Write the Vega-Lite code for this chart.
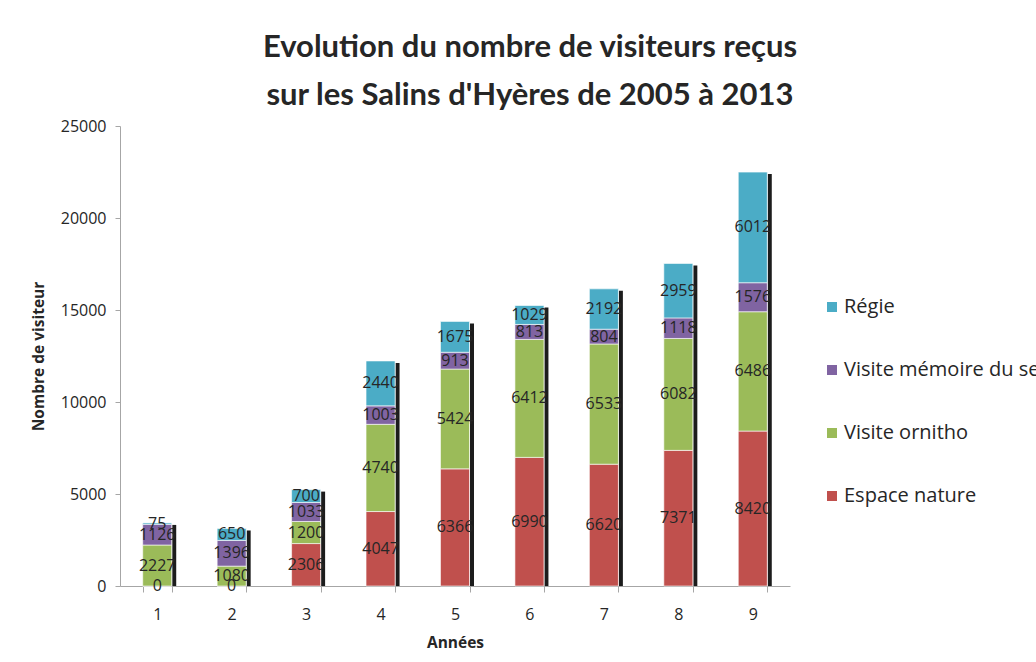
{
  "$schema": "https://vega.github.io/schema/vega-lite/v6.json",
  "autosize": {"type": "none"},
  "width": 670,
  "height": 460,
  "padding": {"left": 120, "top": 126, "right": 246, "bottom": 76},
  "background": "#ffffff",
  "title": {
    "text": ["Evolution du nombre de visiteurs reçus", "sur les Salins d'Hyères de 2005 à 2013"],
    "font": "Lato",
    "fontSize": 31,
    "fontWeight": "bold",
    "color": "#262626",
    "lineHeight": 48,
    "anchor": "middle",
    "frame": "group",
    "dx": 75,
    "offset": 6
  },
  "data": {
    "values": [
      {"year": "1", "series": "Espace nature", "value": 0},
      {"year": "1", "series": "Visite ornitho", "value": 2227},
      {"year": "1", "series": "Visite mémoire du sel", "value": 1126},
      {"year": "1", "series": "Régie", "value": 75},
      {"year": "2", "series": "Espace nature", "value": 0},
      {"year": "2", "series": "Visite ornitho", "value": 1080},
      {"year": "2", "series": "Visite mémoire du sel", "value": 1396},
      {"year": "2", "series": "Régie", "value": 650},
      {"year": "3", "series": "Espace nature", "value": 2306},
      {"year": "3", "series": "Visite ornitho", "value": 1200},
      {"year": "3", "series": "Visite mémoire du sel", "value": 1033},
      {"year": "3", "series": "Régie", "value": 700},
      {"year": "4", "series": "Espace nature", "value": 4047},
      {"year": "4", "series": "Visite ornitho", "value": 4740},
      {"year": "4", "series": "Visite mémoire du sel", "value": 1003},
      {"year": "4", "series": "Régie", "value": 2440},
      {"year": "5", "series": "Espace nature", "value": 6366},
      {"year": "5", "series": "Visite ornitho", "value": 5424},
      {"year": "5", "series": "Visite mémoire du sel", "value": 913},
      {"year": "5", "series": "Régie", "value": 1675},
      {"year": "6", "series": "Espace nature", "value": 6990},
      {"year": "6", "series": "Visite ornitho", "value": 6412},
      {"year": "6", "series": "Visite mémoire du sel", "value": 813},
      {"year": "6", "series": "Régie", "value": 1029},
      {"year": "7", "series": "Espace nature", "value": 6620},
      {"year": "7", "series": "Visite ornitho", "value": 6533},
      {"year": "7", "series": "Visite mémoire du sel", "value": 804},
      {"year": "7", "series": "Régie", "value": 2192},
      {"year": "8", "series": "Espace nature", "value": 7371},
      {"year": "8", "series": "Visite ornitho", "value": 6082},
      {"year": "8", "series": "Visite mémoire du sel", "value": 1118},
      {"year": "8", "series": "Régie", "value": 2959},
      {"year": "9", "series": "Espace nature", "value": 8420},
      {"year": "9", "series": "Visite ornitho", "value": 6486},
      {"year": "9", "series": "Visite mémoire du sel", "value": 1576},
      {"year": "9", "series": "Régie", "value": 6012}
    ]
  },
  "encoding": {
    "x": {
      "field": "year",
      "type": "ordinal",
      "scale": {"paddingInner": 0.61, "paddingOuter": 0.305},
      "axis": {
        "title": "Années",
        "titleFont": "Open Sans",
        "titleFontSize": 15.5,
        "titleFontWeight": "bold",
        "titleColor": "#262626",
        "titlePadding": 13,
        "labelAngle": 0,
        "labelFont": "Open Sans",
        "labelFontSize": 16,
        "labelColor": "#262626",
        "labelPadding": 14,
        "domainColor": "#a6a6a6",
        "tickColor": "#a6a6a6",
        "tickSize": 6,
        "tickBand": "extent",
        "grid": false
      }
    }
  },
  "layer": [
    {
      "mark": {"type": "bar", "width": 4, "xOffset": 17, "yOffset": 2, "color": "#1c1c1c"},
      "encoding": {
        "y": {
          "aggregate": "sum",
          "field": "value",
          "type": "quantitative",
          "scale": {"domain": [0, 25000], "nice": false},
          "axis": {
            "title": "Nombre de visiteur",
            "titleFont": "Open Sans",
            "titleFontSize": 15.5,
            "titleFontWeight": "bold",
            "titleColor": "#262626",
            "titlePadding": 14,
            "values": [0, 5000, 10000, 15000, 20000, 25000],
            "format": "d",
            "labelFont": "Open Sans",
            "labelFontSize": 16,
            "labelColor": "#262626",
            "labelPadding": 9,
            "domainColor": "#a6a6a6",
            "tickColor": "#a6a6a6",
            "tickSize": 5,
            "grid": false
          }
        }
      }
    },
    {
      "transform": [
        {"calculate": "datum.series === 'Espace nature' ? 0 : datum.series === 'Visite ornitho' ? 1 : datum.series === 'Régie' ? 3 : 2", "as": "stackOrder"},
        {"stack": "value", "groupby": ["year"], "sort": [{"field": "stackOrder"}], "as": ["v0", "v1"]}
      ],
      "mark": {"type": "bar", "stroke": "#ffffff", "strokeWidth": 1, "strokeOpacity": 0.6},
      "encoding": {
        "y": {"field": "v1", "type": "quantitative"},
        "y2": {"field": "v0"},
        "color": {
          "field": "series",
          "type": "nominal",
          "scale": {
            "domain": ["Régie", "Visite mémoire du sel", "Visite ornitho", "Espace nature"],
            "range": ["#4BACC6", "#8064A2", "#9BBB59", "#C0504D"]
          },
          "legend": {
            "title": null,
            "orient": "none",
            "legendX": 702,
            "legendY": 171,
            "symbolType": "square",
            "symbolSize": 100,
            "symbolStrokeWidth": 0,
            "labelFont": "Open Sans",
            "labelFontSize": 20,
            "labelColor": "#262626",
            "labelOffset": 2,
            "rowPadding": 43,
            "labelLimit": 400
          }
        }
      }
    },
    {
      "transform": [
        {"calculate": "datum.series === 'Espace nature' ? 0 : datum.series === 'Visite ornitho' ? 1 : datum.series === 'Régie' ? 3 : 2", "as": "stackOrder"},
        {"stack": "value", "groupby": ["year"], "sort": [{"field": "stackOrder"}], "as": ["v0", "v1"]},
        {"calculate": "(datum.v0 + datum.v1) / 2", "as": "mid"}
      ],
      "mark": {"type": "text", "font": "Open Sans", "fontSize": 16, "color": "#262626", "baseline": "middle", "align": "center"},
      "encoding": {
        "y": {"field": "mid", "type": "quantitative"},
        "text": {"field": "value", "type": "quantitative", "format": "d"}
      }
    }
  ],
  "config": {"view": {"stroke": null}}
}
